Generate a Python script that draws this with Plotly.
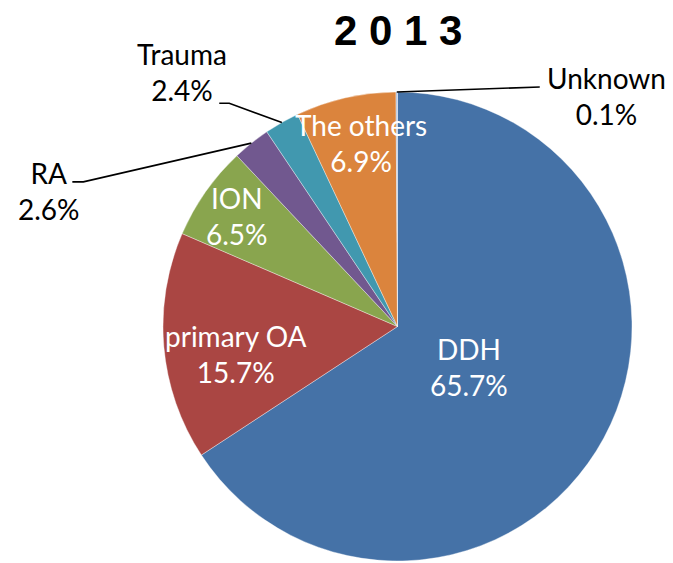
import math
import plotly.graph_objects as go

# ---- data ----
categories = ["DDH", "primary OA", "ION", "RA", "Trauma", "The others", "Unknown"]
shares = [65.7, 15.7, 6.5, 2.6, 2.4, 6.9, 0.1]
title_text = "2 0 1 3"

# ---- style ----
colors = ["#4572A7", "#AA4643", "#89A54E", "#71588F", "#4198AF", "#DB843D", "#A6BBDD"]
OFF = 8                     # page body margin of the html page
W, H = 673 - OFF, 563 - OFF
CX, CY, R = 397.5 - OFF, 326.5 - OFF, 234.5  # pie centre/radius in px (layout)

# inside-label placement: (radial fraction, angle shift deg)
inside_style = {"DDH": (0.35, 1.5), "primary OA": (0.70, -4.6),
                "ION": (0.83, -0.6), "The others": (0.80, 1.5)}
# outside-label placement: label offset from edge point, leader path offsets
outside_style = {
    "RA": {"label": (-202, 48), "path": [(-168, 38.7), (-179, 38.7)]},
    "Trauma": {"label": (-100, -51), "path": [(-52.6, -19.2), (-62.6, -19.2)]},
    "Unknown": {"label": (210, 4), "path": [(143, -5)]},
}

FONT = "Lato, Roboto, sans-serif"
TITLE_FONT = "'Liberation Sans', Arial, sans-serif"

fig = go.Figure(go.Pie(
    labels=categories, values=shares, sort=False, direction="clockwise",
    rotation=0, textinfo="none", showlegend=False,
    marker=dict(colors=colors, line=dict(color="rgba(255,255,255,0.6)", width=0.6)),
    domain=dict(x=[(CX - R) / W, (CX + R) / W], y=[(H - CY - R) / H, (H - CY + R) / H]),
))

def px2paper(x, y):
    return x / W, 1 - y / H

total = sum(shares)
cum = 0.0
annotations = []
shapes = []
for cat, v in zip(categories, shares):
    a0 = cum / total * 360
    a1 = (cum + v) / total * 360
    cum += v
    mid = (a0 + a1) / 2
    text = f"{cat}<br>{v:.1f}%"
    if cat in inside_style:
        frac, shift = inside_style[cat]
        th = math.radians(mid + shift)
        x = CX + frac * R * math.sin(th)
        y = CY - frac * R * math.cos(th)
        px, py = px2paper(x, y)
        annotations.append(dict(x=px, y=py, xref="paper", yref="paper", text=text,
                                showarrow=False, font=dict(family=FONT, size=28, color="white"),
                                xanchor="center", yanchor="middle", align="center"))
    else:
        st = outside_style[cat]
        th = math.radians(mid)
        ex = CX + R * math.sin(th)
        ey = CY - R * math.cos(th)
        pts = [(ex, ey)] + [(ex + dx, ey + dy) for dx, dy in st["path"]]
        pp = [px2paper(x, y) for x, y in pts]
        path = "M " + " L ".join(f"{x},{y}" for x, y in pp)
        shapes.append(dict(type="path", path=path, xref="paper", yref="paper",
                           line=dict(color="black", width=1.6)))
        lx, ly = px2paper(ex + st["label"][0], ey + st["label"][1])
        annotations.append(dict(x=lx, y=ly, xref="paper", yref="paper", text=text,
                                showarrow=False, font=dict(family=FONT, size=28, color="black"),
                                xanchor="center", yanchor="middle", align="center"))

tx, ty = px2paper(398 - OFF, 30 - OFF)
annotations.append(dict(x=tx, y=ty, xref="paper", yref="paper", text=f"<b>{title_text}</b>",
                        showarrow=False, xanchor="center", yanchor="middle",
                        font=dict(family=TITLE_FONT, size=42, color="black")))

fig.update_layout(width=W, height=H, margin=dict(l=0, r=0, t=0, b=0),
                  paper_bgcolor="white", plot_bgcolor="white",
                  annotations=annotations, shapes=shapes)
fig.write_html("out.html")
